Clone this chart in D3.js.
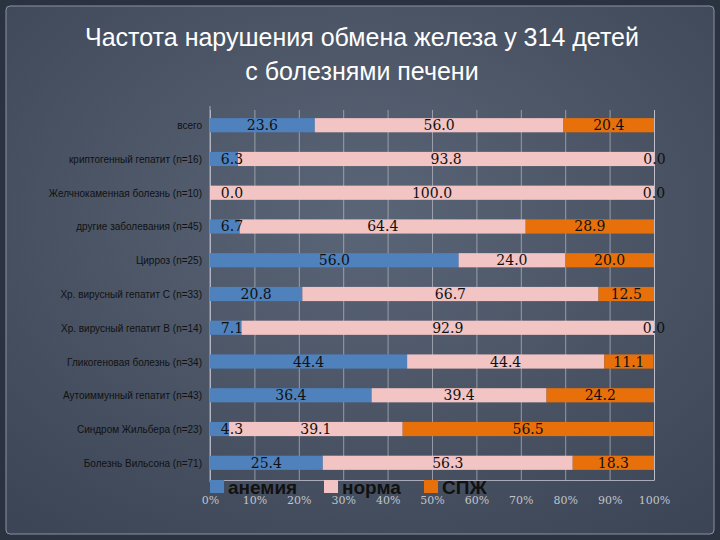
<!DOCTYPE html><html><head><meta charset="utf-8">
<script src="https://d3js.org/d3.v7.min.js"></script>
<style>body{margin:0;background:#2e3440}</style></head><body>
<svg id="c" width="720" height="540"></svg>
<script>
const categories=["всего","криптогенный гепатит (n=16)","Желчнокаменная болезнь (n=10)","другие заболевания (n=45)","Цирроз (n=25)","Хр. вирусный гепатит С (n=33)","Хр. вирусный гепатит В (n=14)","Гликогеновая болезнь (n=34)","Аутоиммунный гепатит (n=43)","Синдром Жильбера (n=23)","Болезнь Вильсона (n=71)"];
const anemia=[23.6,6.3,0.0,6.7,56.0,20.8,7.1,44.4,36.4,4.3,25.4];
const norma=[56.0,93.8,100.0,64.4,24.0,66.7,92.9,44.4,39.4,39.1,56.3];
const spzh=[20.4,0.0,0.0,28.9,20.0,12.5,0.0,11.1,24.2,56.5,18.3];
const seriesNames=["анемия","норма","СПЖ"];
const colors=["#4f81bd","#f2c4c4","#e8700a"];
const ticks=[0,10,20,30,40,50,60,70,80,90,100];

const svg=d3.select("#c");
const defs=svg.append("defs");
const g0=defs.append("radialGradient").attr("id","bg").attr("cx","50%").attr("cy","40%").attr("r","75%");
g0.append("stop").attr("offset","0%").attr("stop-color","#5a6577");
g0.append("stop").attr("offset","100%").attr("stop-color","#3c4555");
svg.append("rect").attr("width",720).attr("height",540).attr("fill","#2c3340");
svg.append("rect").attr("x",6).attr("y",6).attr("width",708).attr("height",528).attr("rx",4).attr("fill","url(#bg)").attr("stroke","#8a93a3");
svg.append("text").attr("x",362).attr("y",46).attr("text-anchor","middle").attr("fill","#fff").attr("font-family","Liberation Sans").attr("font-size",25).text("Частота нарушения обмена железа у 314 детей");
svg.append("text").attr("x",362).attr("y",80).attr("text-anchor","middle").attr("fill","#fff").attr("font-family","Liberation Sans").attr("font-size",25).text("с болезнями печени");

const x=d3.scaleLinear().domain([0,100]).range([210,654]);
const y=d3.scaleBand().domain(categories).range([108,480]).paddingInner(0.58).paddingOuter(0.3);
const gx=svg.append("g").attr("transform","translate(0,480)").call(d3.axisBottom(x).tickValues(ticks).tickFormat(d=>d+"%").tickSize(-370));
gx.selectAll("line").attr("stroke","#c8ccd4").attr("stroke-opacity",0.6);
gx.select(".domain").attr("stroke","#aab");
gx.selectAll("text").attr("fill","#c0c4cc").attr("font-family","DejaVu Serif").attr("font-size",11).attr("dy","1.9em");
svg.append("line").attr("x1",210).attr("x2",210).attr("y1",106).attr("y2",482).attr("stroke","#aab");

const data=categories.map((c,i)=>({c,v:[anemia[i],norma[i],spzh[i]]}));
const barG=svg.append("g"), labG=svg.append("g");
data.forEach(d=>{
  let acc=0;
  d.v.forEach((v,k)=>{
    const x0=x(acc),x1=x(acc+v);acc+=v;
    barG.append("rect").attr("x",x0).attr("y",y(d.c)).attr("width",x1-x0).attr("height",y.bandwidth()).attr("fill",colors[k]);
    let lx=(x0+x1)/2; lx=Math.max(232,Math.min(660,lx));
    labG.append("text").attr("x",lx).attr("y",y(d.c)+y.bandwidth()/2+5).attr("text-anchor","middle").attr("fill","#111").attr("font-family","DejaVu Serif").attr("font-size",14).text(v.toFixed(1));
  });
  labG.append("text").attr("x",202).attr("y",y(d.c)+y.bandwidth()/2+4).attr("text-anchor","end").attr("fill","#111").attr("font-family","Liberation Sans").attr("font-size",10).text(d.c);
});
const lg=[[226,"анемия"],[340,"норма"],[440,"СПЖ"]];
lg.forEach((l,k)=>{
  svg.append("rect").attr("x",l[0]-16).attr("y",480).attr("width",14).attr("height",13).attr("fill",colors[k]);
  svg.append("text").attr("x",l[0]+2).attr("y",494).attr("fill","#111").attr("font-family","Liberation Sans").attr("font-size",19).attr("font-weight","bold").text(seriesNames[k]);
});
</script></body></html>
